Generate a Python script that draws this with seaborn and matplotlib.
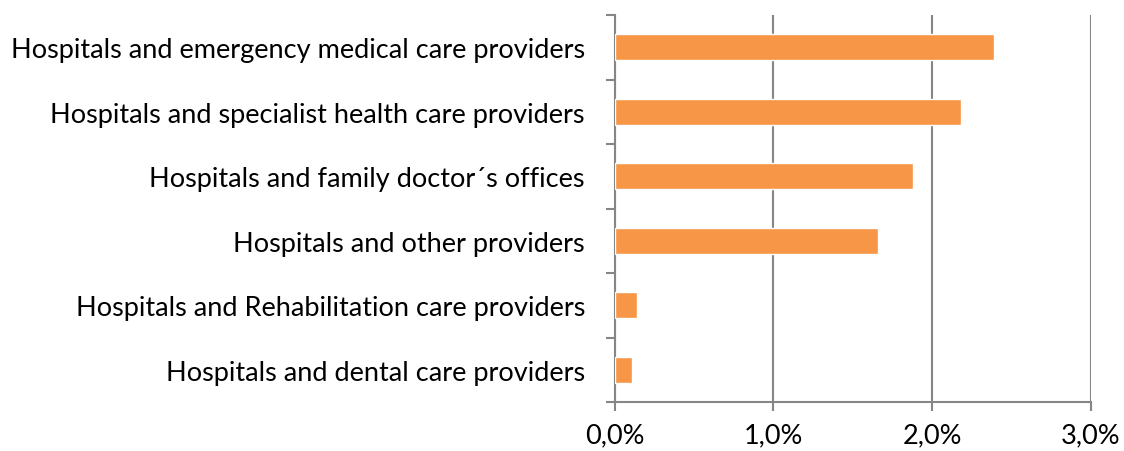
import numpy as np
import pandas as pd
import matplotlib
matplotlib.use('Agg')
import matplotlib.pyplot as plt
import seaborn as sns
from matplotlib.ticker import FuncFormatter, FixedLocator

# Chart data
categories = [
    'Hospitals and emergency medical care providers',
    'Hospitals and specialist health care providers',
    'Hospitals and family doctor´s offices',
    'Hospitals and other providers',
    'Hospitals and Rehabilitation care providers',
    'Hospitals and dental care providers',
]
shares = [2.39, 2.18, 1.88, 1.66, 0.14, 0.107]
x_ticks = [0, 1, 2, 3]

df = pd.DataFrame({'category': categories, 'share': shares})

sns.set_style('white')
plt.rcParams['font.family'] = ['Lato', 'DejaVu Sans']

grey = '#868686'
fig = plt.figure(figsize=(11.24, 4.52), dpi=100)
ax = fig.add_axes([0.547, 0.1084, 0.4233, 0.8562])

sns.barplot(data=df, x='share', y='category', orient='h', color='#F79646',
            saturation=1, width=0.4, ax=ax, zorder=3)

ax.set_xlim(0, 3)
ax.set_ylim(5.5, -0.5)
ax.set_xticks(x_ticks)
ax.xaxis.set_major_formatter(FuncFormatter(lambda v, p: f'{v:.1f}%'.replace('.', ',')))
ax.grid(axis='x', color=grey, linewidth=1.5, zorder=0)
ax.grid(axis='y', visible=False)

# category boundary ticks on the y axis
ax.yaxis.set_minor_locator(FixedLocator(np.arange(-0.5, 6, 1)))
ax.tick_params(axis='y', which='major', length=0, pad=21.5, labelsize=19.5, labelcolor='black')
ax.tick_params(axis='y', which='minor', length=6.5, width=1.5, color=grey, left=True)
ax.tick_params(axis='x', which='major', length=6.5, width=1.5, color=grey, bottom=True,
               pad=8, labelsize=19.5, labelcolor='black')

for side in ['top', 'right']:
    ax.spines[side].set_visible(False)
for side in ['left', 'bottom']:
    ax.spines[side].set_color(grey)
    ax.spines[side].set_linewidth(1.5)

ax.set_xlabel('')
ax.set_ylabel('')

fig.savefig('out.png', dpi=100)
